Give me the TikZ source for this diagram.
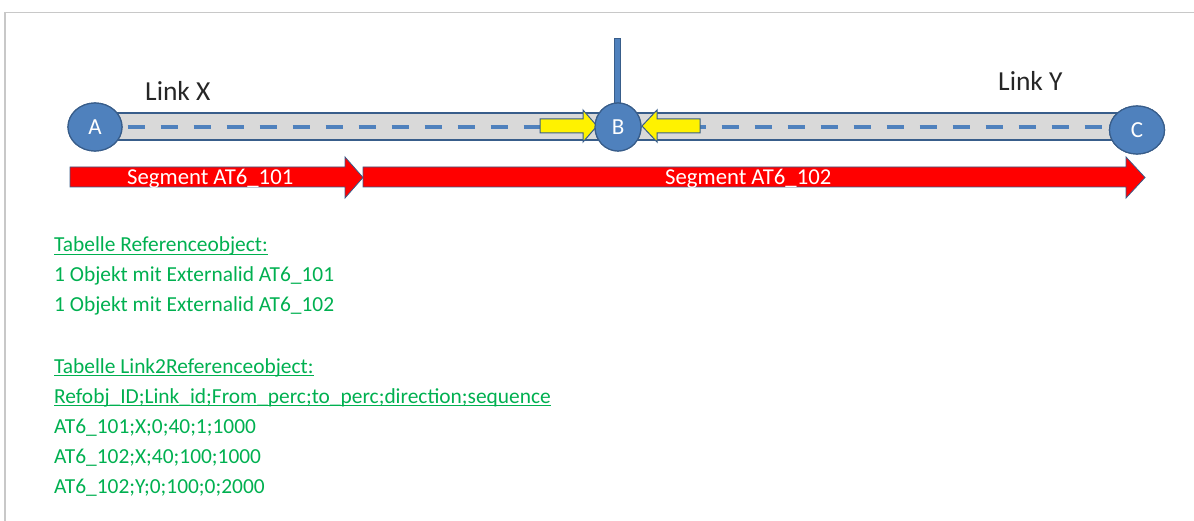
\documentclass[tikz,border=0pt]{standalone}
\usepackage{fontspec}
\setmainfont{Carlito}
\usetikzlibrary{shapes.geometric}
\definecolor{nodeblue}{HTML}{4F81BD}
\definecolor{edgeblue}{HTML}{385D8A}
\definecolor{roadgray}{HTML}{D9D9D9}
\definecolor{tabgreen}{HTML}{00B050}
\definecolor{framegray}{HTML}{C8C8C8}
\tikzset{
  junction/.style={ellipse, fill=nodeblue, draw=edgeblue, line width=1.2pt,
    minimum width=#1, minimum height=48pt, inner sep=0pt, text=white,
    font=\fontsize{23}{27}\selectfont},
  junction/.default=54pt,
  linklabel/.style={anchor=base west, inner sep=0pt, text=black!85,
    font=\fontsize{27.5}{32}\selectfont},
  seglabel/.style={anchor=base west, inner sep=0pt, text=white,
    font=\fontsize{22.7}{27}\selectfont},
  tabline/.style={anchor=base west, inner sep=0pt, text=tabgreen,
    font=\fontsize{21.4}{25}\selectfont},
  segarrow/.style={fill=red, draw=edgeblue, line width=0.8pt, line join=miter},
  hintarrow/.style={fill=yellow, draw=edgeblue, line width=1pt, line join=miter},
  uline/.style={draw=tabgreen, line width=1pt}
}
\begin{document}
\begin{tikzpicture}[x=1pt, y=-1pt]
\useasboundingbox (0,0) rectangle (1194,521);
% outer frame (top and left edges only)
\draw[framegray, line width=1.5pt] (5,521) -- (5,12.5) -- (1194,12.5);

% road of links X and Y
\draw[fill=roadgray, draw=edgeblue, line width=1.2pt] (100,113) rectangle (1130,140);
% vertical link leaving B
\draw[fill=nodeblue, draw=edgeblue, line width=0.8pt] (614.5,38) rectangle (620.5,106);

% junctions
\node[junction=54pt] (A) at (95,127) {A};
\node[junction=46pt] (B) at (618,127) {B};
\node[junction=55pt] (C) at (1137,130) {C};

% dashed centre line
\draw[nodeblue, line width=3.5pt, dash pattern=on 17pt off 16pt, dash phase=-5pt]
  (A.east |- 0,127) -- (C.west |- 0,127);
\node[junction=54pt] at (A) {A};
\node[junction=55pt] at (C) {C};

% yellow arrows pointing into B
\draw[hintarrow] (540,119) -- (583,119) -- (583,110) -- (597,126) -- (583,142)
  -- (583,133) -- (540,133) -- cycle;
\draw[hintarrow] (700,119) -- (657,119) -- (657,110) -- (642,126) -- (657,142)
  -- (657,133) -- (700,133) -- cycle;
\node[junction=46pt] at (B) {B};

% segments
\draw[segarrow] (70,167) -- (345,167) -- (345,157) -- (363,177.5) -- (345,198)
  -- (345,187) -- (70,187) -- cycle;
\draw[segarrow] (363,167) -- (1126,167) -- (1126,157) -- (1145,177.5) -- (1126,198)
  -- (1126,187) -- (363,187) -- cycle;
\node[seglabel] (s1) at (127,184.5) {Segment AT6\_101};
\node[seglabel] (s2) at (665,184.5) {Segment AT6\_102};

% link labels
\node[linklabel] (lx) at (145,101) {Link X};
\node[linklabel] (ly) at (998,91) {Link Y};

% tables
\node[tabline] (t1) at (54,252) {Tabelle Referenceobject:};
\node[tabline] (t2) at (54,282) {1 Objekt mit Externalid AT6\_101};
\node[tabline] (t3) at (54,312) {1 Objekt mit Externalid AT6\_102};
\node[tabline] (t4) at (54,373) {Tabelle Link2Referenceobject:};
\node[tabline] (t5) at (54,403) {Refobj\_ID;Link\_id;From\_perc;to\_perc;direction;sequence};
\node[tabline] (t6) at (54,433) {AT6\_101;X;0;40;1;1000};
\node[tabline] (t7) at (54,463) {AT6\_102;X;40;100;1000};
\node[tabline] (t8) at (54,493) {AT6\_102;Y;0;100;0;2000};
\foreach \t in {t1,t4,t5}
  \draw[uline] ([yshift=-2.5pt]\t.base west) -- ([yshift=-2.5pt]\t.base east);
\end{tikzpicture}
\end{document}
